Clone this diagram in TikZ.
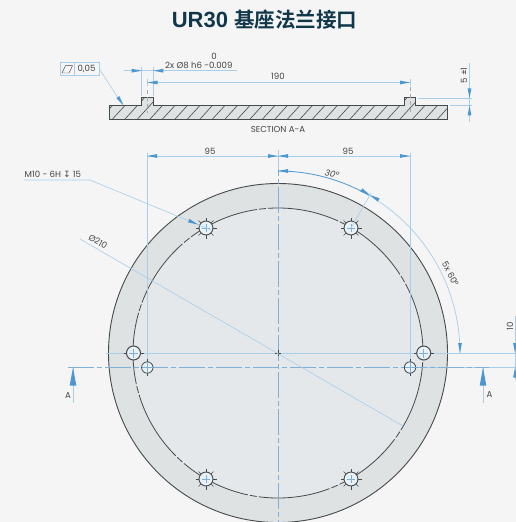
\documentclass[tikz,border=0pt]{standalone}
\usepackage{fontspec}
\setmainfont{Poppins}
\newfontfamily\titlefont{Liberation Sans}[BoldFont={Liberation Sans Bold}]
\newfontfamily\cjkfont{Noto Sans CJK SC}[BoldFont={Noto Sans CJK SC Bold}]
\newfontfamily\symfont{DejaVu Sans}
\definecolor{pagebg}{HTML}{F5F5F5}
\definecolor{dimline}{HTML}{A8CEEA}
\definecolor{dimtipc}{HTML}{4C97CF}
\definecolor{centerc}{HTML}{7FB0D8}
\definecolor{outlinec}{HTML}{454A4D}
\definecolor{ringc}{HTML}{DFE2E2}
\definecolor{innerc}{HTML}{E5E8EA}
\definecolor{holec}{HTML}{E8F1F6}
\definecolor{titlec}{HTML}{10384A}
\definecolor{labelc}{HTML}{444444}
\newcommand{\dimtip}[2]{\fill[dimtipc,shift={(#1)},rotate=#2] (0,0) -- (10bp,-1.9bp) -- (10bp,1.9bp) -- cycle;}
\newcommand{\bighead}[1]{\fill[dimtipc,shift={(#1)}] (0,0) -- (-3.3,18) -- (3.3,18) -- cycle;}
\newcommand{\threadhole}[2]{%
  \foreach \a in {0,45,...,315}{\draw[outlinec,line width=0.45bp,shift={(#1,#2)}] (\a:6bp) -- (\a:10.5bp);}
  \draw[outlinec,fill=holec,line width=0.9bp] (#1,#2) circle[radius=7bp];
  \draw[centerc,line width=0.5bp] (#1-4,#2) -- (#1+4,#2) (#1,#2-4) -- (#1,#2+4);}
\tikzset{
  dimthin/.style={dimline,line width=0.6bp},
  dimwide/.style={dimline,line width=1bp},
  centerline/.style={centerc,line width=0.8bp,dash pattern=on 26bp off 3bp on 5bp off 3bp},
  graydash/.style={gray!70,line width=0.8bp,dash pattern=on 4bp off 3bp},
  lab/.style={text=labelc,font=\fontsize{8.6bp}{9bp}\selectfont,inner sep=0pt},
}
\begin{document}
\begin{tikzpicture}[x=1bp,y=-1bp]
\useasboundingbox (0,0) rectangle (516,522);
\fill[pagebg] (0,0) rectangle (516,522);
\node[text=titlec,inner sep=0pt,font=\titlefont\bfseries\fontsize{22bp}{24bp}\selectfont] (title) at (264.5,20) {UR30 {\cjkfont\bfseries\fontsize{20.5bp}{24bp}\selectfont 基座法兰接口}};

% section view
\path[fill=ringc] (109.5,105.5) -- (141.7,105.5) -- (141.7,98) -- (153.3,98) -- (153.3,105.5) -- (404.3,105.5) -- (404.3,98) -- (415.7,98) -- (415.7,105.5) -- (447.7,105.5) -- (447.7,119.3) -- (109.5,119.3) -- cycle;
\begin{scope}
\clip (109.5,105.5) -- (141.7,105.5) -- (141.7,98) -- (153.3,98) -- (153.3,105.5) -- (404.3,105.5) -- (404.3,98) -- (415.7,98) -- (415.7,105.5) -- (447.7,105.5) -- (447.7,119.3) -- (109.5,119.3) -- cycle;
\foreach \k in {-1,0,...,27}{\draw[outlinec,line width=0.6bp] (112.3+12.5*\k,119.3) -- ++(21,-23);}
\end{scope}
\draw[outlinec,line width=1bp] (109.5,105.5) -- (141.7,105.5) -- (141.7,98) -- (153.3,98) -- (153.3,105.5) -- (404.3,105.5) -- (404.3,98) -- (415.7,98) -- (415.7,105.5) -- (447.7,105.5) -- (447.7,119.3) -- (109.5,119.3) -- cycle;
\draw[graydash] (147.5,90) -- (147.5,113);
\draw[graydash] (410,87) -- (410,113);
\node[lab] (section) at (278,129.5) {SECTION A-A};

% flatness frame
\node[draw=dimline,line width=0.7bp,minimum width=39bp,minimum height=13.7bp,inner sep=0pt] (frame) at (79.5,69) {};
\draw[dimline,line width=0.7bp] (74.3,62.2) -- (74.3,75.8);
\draw[labelc,line width=0.45bp] (62,73) -- (65.5,65.7) -- (72.5,65.7) -- (69,73) -- cycle;
\node[lab] (flat) at (86.5,69.3) {0,05};
\draw[dimthin] (frame.east) -- (122,104);
\dimtip{123.5,105.5}{124}

% h6 dimension
\draw[dimthin] (124,70.7) -- (237,70.7);
\draw[dimthin] (141.7,67) -- (141.7,96) (153.3,67) -- (153.3,96);
\dimtip{141.7,70.7}{180}
\dimtip{153.3,70.7}{0}
\node[lab] (zero) at (214,56.5) {0};
\node[lab,anchor=west] (h6) at (165,65.3) {2x Ø8 h6 -0.009};

% 190 dimension
\draw[dimthin] (147.5,82.5) -- (410,82.5);
\draw[dimthin] (147.5,79) -- (147.5,86) (410,79) -- (410,86);
\dimtip{147.5,82.5}{0}
\dimtip{410,82.5}{180}
\node[lab] (d190) at (278,76) {190};

% 5 +-1 dimension
\draw[dimthin] (469.5,63) -- (469.5,122);
\draw[dimthin] (418,98.3) -- (472,98.3) (450,105.5) -- (472,105.5);
\dimtip{469.5,98.3}{90}
\dimtip{469.5,105.5}{270}
\node[lab,rotate=90] (d5) at (464,75.5) {5 ±1};

% disk
\fill[ringc] (278,353) circle[radius=169.5bp];
\fill[innerc] (278,353) circle[radius=145bp];
\draw[outlinec,line width=0.9bp] (278,353) circle[radius=169.5bp];
\draw[outlinec,line width=0.8bp,dash pattern=on 72bp off 2bp on 7bp off 2bp] (278,353) circle[radius=145bp];

% dimension extensions and centre lines
\draw[dimwide] (147,153) -- (147,367.5);
\draw[dimwide] (410,153) -- (410,367.5);
\draw[dimwide] (106,353) -- (517,353);
\draw[dimthin] (410,367.5) -- (517,367.5);
\draw[centerline] (278,150) -- (278,522);
\draw[centerline] (68,367.5) -- (489,367.5);
\draw[labelc,line width=0.5bp] (275,353) -- (281,353) (278,350) -- (278,356);

% holes
\threadhole{206}{228}
\threadhole{351}{228}
\threadhole{206}{479}
\threadhole{351}{479}
\foreach \x in {133.5,423.7}{
  \draw[outlinec,line width=0.5bp] (\x-10,353) -- (\x+10,353);
  \draw[outlinec,fill=holec,line width=1bp] (\x,353) circle[radius=7bp];
  \draw[centerc,line width=0.7bp] (\x-4.5,353) -- (\x+4.5,353) (\x,348.5) -- (\x,357.5);}
\foreach \x in {147.3,410}{
  \draw[outlinec,line width=0.4bp] (\x,359) -- (\x,376);
  \draw[outlinec,fill=holec,line width=0.8bp] (\x,367.5) circle[radius=5.7bp];
  \draw[centerc,line width=0.7bp] (\x-5.5,367.5) -- (\x+5.5,367.5) (\x,362) -- (\x,373);}

% 95 dimensions
\draw[dimthin] (147,156) -- (410,156);
\draw[dimthin] (278,150) -- (278,170);
\dimtip{147,156}{0}
\dimtip{278,156}{180}
\dimtip{278,156}{0}
\dimtip{410,156}{180}
\node[lab] (d95a) at (210,151) {95};
\node[lab] (d95b) at (348,151) {95};

% M10 leader
\node[lab,anchor=west] (m10) at (24.5,174.5) {M10 - 6H {\symfont ↧} 15};
\draw[dimthin] (24,180) -- (90,180) -- (211,230);
\dimtip{198,224.5}{157.5}

% diameter leader
\draw[dimthin] (80,239) -- (403,426);
\node[lab,rotate=-30] (d210) at (98,241.5) {Ø210};

% angular dimensions
\draw[dimtipc,line width=0.8bp] (278,353) ++(90:182bp) arc[start angle=90,end angle=60,radius=182bp];
\draw[dimline,line width=0.7bp] (278,353) ++(60:182bp) arc[start angle=60,end angle=0,radius=182bp];
\draw[dimthin] (351,228) -- (371,193);
\dimtip{278,171}{0}
\dimtip{370,195}{150}
\dimtip{370,195}{-30}
\dimtip{460,353}{90}
\node[lab,rotate=-14,font=\itshape\fontsize{8.6bp}{9bp}\selectfont] (a30) at (332,174) {30°};
\node[lab,rotate=-62] (a60) at (450.5,274) {5x 60°};

% 10 dimension
\draw[dimthin] (515,316) -- (515,380);
\dimtip{515,353}{90}
\dimtip{515,367.5}{270}
\node[lab,rotate=90] (d10) at (510,326) {10};

% section arrows
\draw[dimline,line width=0.9bp] (73,367.5) -- (73,403);
\bighead{73,367.5}
\node[lab] (aleft) at (68,396) {A};
\draw[dimline,line width=0.9bp] (483,367.5) -- (483,403);
\bighead{483,367.5}
\node[lab] (aright) at (489.5,395) {A};
\end{tikzpicture}
\end{document}
